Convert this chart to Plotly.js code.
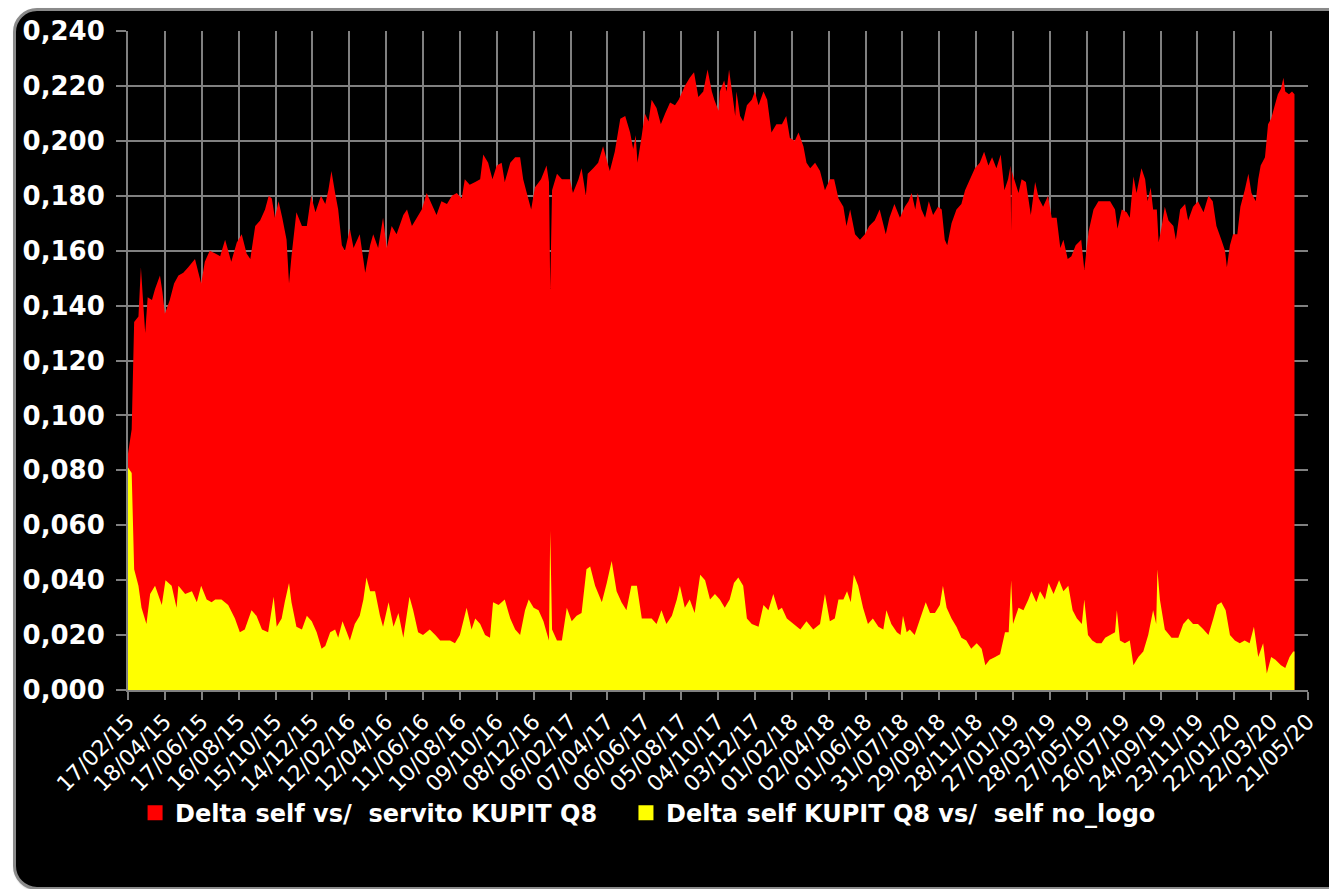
<!DOCTYPE html>
<html>
<head>
<meta charset="utf-8">
<script src="https://cdn.plot.ly/plotly-3.0.1.min.js"></script>
<style>
  html, body { margin: 0; padding: 0; background: #ffffff; overflow: hidden; }
  #frame {
    position: absolute; left: 13px; top: 8px; width: 1345px; height: 876px;
    background: #000000; border: 3px solid #8a8a8a; border-radius: 24px;
    box-shadow: 1px 1px 2px #bbbbbb;
  }
  #chart { position: absolute; left: 0; top: 0; width: 1329px; height: 889px; }
</style>
</head>
<body>
<div id="frame"></div>
<div id="chart"></div>
<script>
// ---- data (days since 17/02/2015, values) ----
const startDate = "2015-02-17";

const redDays = [0,6,10,17,21,25,28,32,39,44,52,56,60,68,75,82,90,98,109,119,125,133,142,150,158,168,177,185,193,199,207,215,223,229,234,239,245,251,258,262,266,274,283,291,298,305,314,
321,326,331,337,342,348,353,361,367,377,386,394,399,407,415,421,429,437,448,454,462,470,478,486,494,502,510,519,527,535,543,548,556,565,573,578,586,593,600,608,613,622,630,
638,643,650,656,662,672,681,685,687,690,698,706,714,719,724,733,738,745,748,757,765,773,779,784,792,801,809,817,822,826,829,836,841,847,852,860,867,874,882,890,896,906,914,921,928,936,943,950,
954,961,963,970,974,978,984,988,990,996,1001,1007,1015,1020,1026,1034,1040,1047,1055,1064,1071,1077,1085,1091,1099,1104,1110,1118,1126,1134,1142,1149,1156,1164,1169,1175,1183,1191,1199,1206,1215,1223,1233,1239,1247,1256,1264,
1270,1275,1281,1285,1291,1297,1303,1310,1318,1324,1329,1333,1340,1348,1356,1362,1370,1378,1386,1393,1400,1406,1413,1420,1426,1432,1436,1437,1438,1442,1449,1454,1461,1469,1476,1482,1489,1497,1503,1511,1517,1522,1529,1535,1542,1551,1556,1563,1571,1579,1589,
1598,1606,1610,1617,1625,1630,1636,1641,1649,1655,1659,1664,1668,1674,1677,1682,1687,1693,1701,1705,1712,1720,1725,1733,1741,1750,1758,1765,1771,1779,1785,1788,1793,1798,1805,1810,1817,1823,1828,1835,1839,1843,1850,1855,1860,1866,1871,1876,1880,1883,1889,1894,1898];

const redValues = [0.086,0.095,0.134,0.136,0.154,0.140,0.130,0.143,0.142,0.146,0.151,0.145,0.137,0.142,0.148,0.151,0.152,0.154,0.157,0.148,0.156,0.160,0.159,0.158,0.164,0.156,0.163,0.166,0.159,0.157,0.169,0.171,0.175,0.180,0.179,0.172,0.178,0.172,0.164,0.148,0.158,0.174,0.169,0.169,0.180,0.174,0.180,
0.177,0.182,0.189,0.181,0.175,0.162,0.160,0.168,0.161,0.166,0.152,0.162,0.166,0.161,0.172,0.161,0.169,0.166,0.173,0.175,0.169,0.172,0.175,0.181,0.177,0.173,0.178,0.177,0.180,0.181,0.179,0.186,0.184,0.185,0.186,0.195,0.192,0.186,0.191,0.192,0.185,0.192,0.194,
0.194,0.186,0.180,0.175,0.183,0.186,0.191,0.185,0.146,0.182,0.188,0.186,0.186,0.186,0.181,0.186,0.190,0.180,0.188,0.190,0.192,0.198,0.193,0.189,0.196,0.208,0.209,0.203,0.197,0.202,0.192,0.202,0.210,0.207,0.215,0.212,0.206,0.210,0.214,0.213,0.215,0.220,0.223,0.225,0.216,0.218,0.226,0.218,
0.215,0.211,0.218,0.222,0.218,0.226,0.216,0.209,0.218,0.209,0.207,0.213,0.215,0.218,0.213,0.218,0.215,0.203,0.206,0.206,0.209,0.201,0.200,0.203,0.198,0.192,0.190,0.192,0.189,0.182,0.186,0.186,0.179,0.176,0.169,0.175,0.166,0.164,0.166,0.169,0.171,0.175,0.166,0.172,0.177,0.172,0.176,
0.178,0.181,0.175,0.181,0.175,0.172,0.178,0.173,0.176,0.175,0.164,0.162,0.170,0.175,0.177,0.182,0.186,0.190,0.192,0.196,0.191,0.194,0.190,0.195,0.182,0.186,0.191,0.167,0.189,0.186,0.181,0.186,0.185,0.173,0.185,0.179,0.176,0.180,0.172,0.172,0.161,0.164,0.157,0.158,0.162,0.164,0.153,0.167,0.175,0.178,0.178,
0.178,0.175,0.168,0.175,0.174,0.172,0.187,0.181,0.190,0.186,0.178,0.183,0.175,0.175,0.163,0.169,0.176,0.171,0.169,0.164,0.175,0.177,0.171,0.176,0.178,0.174,0.180,0.178,0.169,0.164,0.160,0.154,0.162,0.166,0.166,0.176,0.182,0.188,0.181,0.178,0.186,0.191,0.194,0.206,0.208,0.213,0.217,0.219,0.223,0.218,0.217,0.218,0.217];

const yellowDays = [0,6,10,17,22,30,36,44,55,61,71,79,82,93,104,112,119,128,136,142,152,163,174,182,190,201,209,218,228,237,242,250,255,262,266,274,283,291,299,307,315,
321,329,337,342,349,356,361,369,377,383,388,394,402,410,415,424,432,440,448,458,464,472,480,491,500,508,516,524,532,540,551,559,565,573,581,589,594,603,613,622,630,
638,646,652,660,668,676,681,685,687,690,698,706,714,722,730,738,746,752,760,771,779,787,795,803,811,819,828,836,844,852,860,868,876,885,893,898,906,914,922,931,939,947,
955,963,971,979,986,993,1001,1007,1015,1026,1034,1042,1050,1058,1064,1072,1083,1094,1104,1115,1126,1134,1142,1150,1156,1164,1170,1176,1181,1188,1196,1204,1212,1221,1229,1234,1242,1251,1257,1261,1267,
1272,1280,1289,1298,1305,1313,1321,1326,1332,1340,1348,1356,1364,1372,1381,1389,1395,1402,1411,1419,1427,1433,1437,1440,1449,1457,1465,1470,1478,1484,1492,1498,1506,1515,1522,1530,1537,1544,1552,1556,1562,1569,1576,1584,
1590,1598,1606,1609,1614,1622,1630,1636,1644,1652,1660,1668,1673,1675,1679,1687,1698,1709,1717,1725,1733,1741,1750,1758,1766,1772,1779,1786,1793,1801,1809,1817,1825,1832,1839,1847,1853,1860,1867,1876,1883,1890,1896,1898];

const yellowValues = [0.081,0.079,0.044,0.038,0.030,0.024,0.035,0.038,0.031,0.040,0.038,0.030,0.038,0.035,0.036,0.032,0.038,0.033,0.032,0.033,0.033,0.031,0.026,0.021,0.022,0.029,0.027,0.022,0.021,0.034,0.023,0.026,0.032,0.039,0.032,0.023,0.022,0.027,0.025,0.021,0.015,
0.016,0.021,0.022,0.019,0.025,0.021,0.018,0.024,0.027,0.033,0.041,0.036,0.036,0.027,0.023,0.032,0.023,0.028,0.019,0.034,0.029,0.021,0.020,0.022,0.020,0.018,0.018,0.018,0.017,0.020,0.030,0.022,0.026,0.024,0.020,0.019,0.032,0.031,0.033,0.026,0.022,
0.020,0.029,0.033,0.030,0.029,0.025,0.021,0.018,0.058,0.022,0.018,0.018,0.030,0.025,0.027,0.028,0.044,0.045,0.038,0.032,0.039,0.047,0.036,0.032,0.029,0.038,0.038,0.026,0.026,0.026,0.024,0.029,0.024,0.027,0.033,0.038,0.030,0.033,0.028,0.042,0.040,0.033,
0.035,0.033,0.030,0.033,0.039,0.041,0.038,0.026,0.024,0.023,0.031,0.029,0.035,0.029,0.030,0.026,0.024,0.022,0.025,0.022,0.024,0.035,0.025,0.026,0.033,0.033,0.036,0.032,0.042,0.038,0.030,0.024,0.026,0.023,0.022,0.029,0.024,0.021,0.020,0.027,0.021,
0.022,0.020,0.026,0.032,0.028,0.028,0.031,0.038,0.030,0.026,0.023,0.019,0.018,0.015,0.017,0.015,0.009,0.011,0.012,0.013,0.021,0.021,0.040,0.024,0.030,0.029,0.033,0.036,0.032,0.036,0.033,0.039,0.035,0.040,0.036,0.038,0.029,0.026,0.024,0.033,0.020,0.018,0.017,0.017,
0.019,0.020,0.021,0.029,0.018,0.017,0.018,0.009,0.012,0.014,0.020,0.029,0.024,0.044,0.033,0.022,0.019,0.019,0.024,0.026,0.024,0.024,0.022,0.020,0.026,0.031,0.032,0.029,0.020,0.018,0.017,0.018,0.017,0.023,0.012,0.017,0.006,0.012,0.011,0.009,0.008,0.012,0.014,0.014];

const tickLabels = ["17/02/15","18/04/15","17/06/15","16/08/15","15/10/15","14/12/15","12/02/16","12/04/16","11/06/16","10/08/16","09/10/16","08/12/16","06/02/17","07/04/17","06/06/17","05/08/17","04/10/17","03/12/17","01/02/18","02/04/18","01/06/18","31/07/18","29/09/18","28/11/18","27/01/19","28/03/19","27/05/19","26/07/19","24/09/19","23/11/19","22/01/20","22/03/20","21/05/20"];

const seriesNames = ["Delta self vs/  servito KUPIT Q8", "Delta self KUPIT Q8 vs/  self no_logo"];
const seriesColors = ["#FF0000", "#FFFF00"];

// ---- helpers ----
const t0 = Date.parse(startDate + "T00:00:00Z");
const toDate = d => new Date(t0 + d * 86400000).toISOString().slice(0, 10);
const labelToDate = s => { const p = s.split("/"); return "20" + p[2] + "-" + p[1] + "-" + p[0]; };
const tickVals = tickLabels.map(labelToDate);

const traces = [
  { x: redDays.map(toDate), y: redValues, type: "scatter", mode: "none", fill: "tozeroy",
    fillcolor: seriesColors[0], showlegend: false, hoverinfo: "x+y" },
  { x: yellowDays.map(toDate), y: yellowValues, type: "scatter", mode: "none", fill: "tozeroy",
    fillcolor: seriesColors[1], showlegend: false, hoverinfo: "x+y" },
  { x: [null], y: [null], type: "scatter", mode: "markers", name: seriesNames[0], legend: "legend",
    marker: { symbol: "square", size: 15, color: seriesColors[0] } },
  { x: [null], y: [null], type: "scatter", mode: "markers", name: seriesNames[1], legend: "legend2",
    marker: { symbol: "square", size: 15, color: seriesColors[1] } }
];

const legendFont = { size: 24, color: "#ffffff", family: "DejaVu Sans, Verdana, sans-serif", weight: "bold" };

const layout = {
  width: 1329, height: 889,
  paper_bgcolor: "rgba(0,0,0,0)", plot_bgcolor: "#000000",
  separators: ",.",
  margin: { l: 128, r: 21, t: 31, b: 199 },
  font: { family: "DejaVu Sans, Verdana, sans-serif", color: "#ffffff" },
  xaxis: {
    type: "date", range: [tickVals[0], tickVals[tickVals.length - 1]],
    tickmode: "array", tickvals: tickVals, ticktext: tickLabels,
    tickangle: -45, tickfont: { size: 22, color: "#ffffff" },
    showgrid: true, gridcolor: "#808080", gridwidth: 2,
    showline: true, linecolor: "#808080", linewidth: 2,
    ticks: "outside", ticklen: 8, tickcolor: "#808080", tickwidth: 2,
    zeroline: false, layer: "below traces"
  },
  yaxis: {
    range: [0, 0.24], dtick: 0.02, tick0: 0, tickformat: ".3f",
    tickfont: { size: 26, color: "#ffffff", family: "DejaVu Sans, Verdana, sans-serif", weight: "bold" },
    showgrid: true, gridcolor: "#808080", gridwidth: 2,
    showline: true, linecolor: "#808080", linewidth: 2,
    ticks: "outside", ticklen: 10, tickcolor: "#808080", tickwidth: 2,
    ticklabelstandoff: 6,
    zeroline: false
  },
  legend: {
    orientation: "h", x: 0.006, xanchor: "left", y: -0.187, yanchor: "middle",
    bgcolor: "rgba(0,0,0,0)", font: legendFont, itemwidth: 30
  },
  legend2: {
    orientation: "h", x: 0.422, xanchor: "left", y: -0.187, yanchor: "middle",
    bgcolor: "rgba(0,0,0,0)", font: legendFont, itemwidth: 30
  },
  showlegend: true
};

Plotly.newPlot("chart", traces, layout, { displayModeBar: false, staticPlot: true });
</script>
</body>
</html>
